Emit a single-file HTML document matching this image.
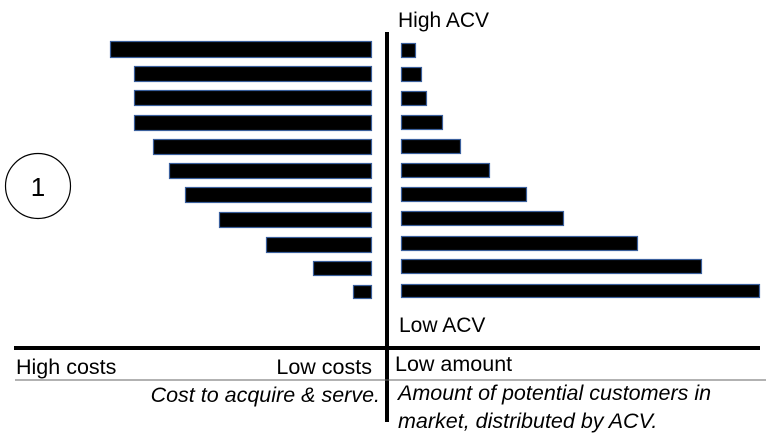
<!DOCTYPE html>
<html><head><meta charset="utf-8"><style>
html,body{margin:0;padding:0;background:#fff;}
svg{display:block;}
text{font-family:"Liberation Sans",Arial,sans-serif;fill:#000;}
</style></head><body>
<svg width="766" height="439" viewBox="0 0 766 439" xmlns="http://www.w3.org/2000/svg">
<g fill="#000" stroke="#3a5f9c" stroke-width="1.2">
<rect x="110.5" y="41.5" width="261" height="16"/>
<rect x="134.5" y="66.5" width="237" height="15"/>
<rect x="134.5" y="90.5" width="237" height="15"/>
<rect x="134.5" y="115.5" width="237" height="15"/>
<rect x="153.5" y="139.5" width="218" height="15"/>
<rect x="169.5" y="163.5" width="202" height="15"/>
<rect x="185.5" y="187.5" width="186" height="15"/>
<rect x="219.5" y="212.5" width="152" height="15"/>
<rect x="266.5" y="237.5" width="105" height="15"/>
<rect x="313.5" y="261.5" width="58" height="14"/>
<rect x="353.5" y="285.5" width="18" height="13"/>
<rect x="401.5" y="43.5" width="14" height="14"/>
<rect x="401.5" y="67.5" width="20" height="14"/>
<rect x="401.5" y="91.5" width="25" height="14"/>
<rect x="401.5" y="115.5" width="41" height="14"/>
<rect x="401.5" y="139.5" width="59" height="14"/>
<rect x="401.5" y="163.5" width="88" height="14"/>
<rect x="401.5" y="187.5" width="125" height="14"/>
<rect x="401.5" y="211.5" width="162" height="14"/>
<rect x="401.5" y="236.5" width="236" height="14"/>
<rect x="401.5" y="259.5" width="300" height="14"/>
<rect x="401.5" y="284.5" width="358" height="13"/>
</g>
<rect x="385" y="32" width="4" height="390" fill="#000"/>
<rect x="14" y="346" width="746" height="4" fill="#000"/>
<rect x="15" y="379.5" width="751" height="1" fill="#666"/>
<circle cx="38" cy="186" r="32.5" fill="none" stroke="#000" stroke-width="1.2"/>
<text x="38" y="196" font-size="26" text-anchor="middle">1</text>
<text x="398" y="27" font-size="21">High ACV</text>
<text x="399" y="332" font-size="21">Low ACV</text>
<text x="16" y="374" font-size="21.5">High costs</text>
<text x="372" y="374" font-size="21.5" text-anchor="end">Low costs</text>
<text x="395" y="371" font-size="21.5">Low amount</text>
<text x="380" y="402" font-size="21.5" font-style="italic" text-anchor="end">Cost to acquire &amp; serve.</text>
<text x="398" y="400" font-size="21.5" font-style="italic">Amount of potential customers in</text>
<text x="398" y="428" font-size="21.5" font-style="italic">market, distributed by ACV.</text>
</svg>
</body></html>
